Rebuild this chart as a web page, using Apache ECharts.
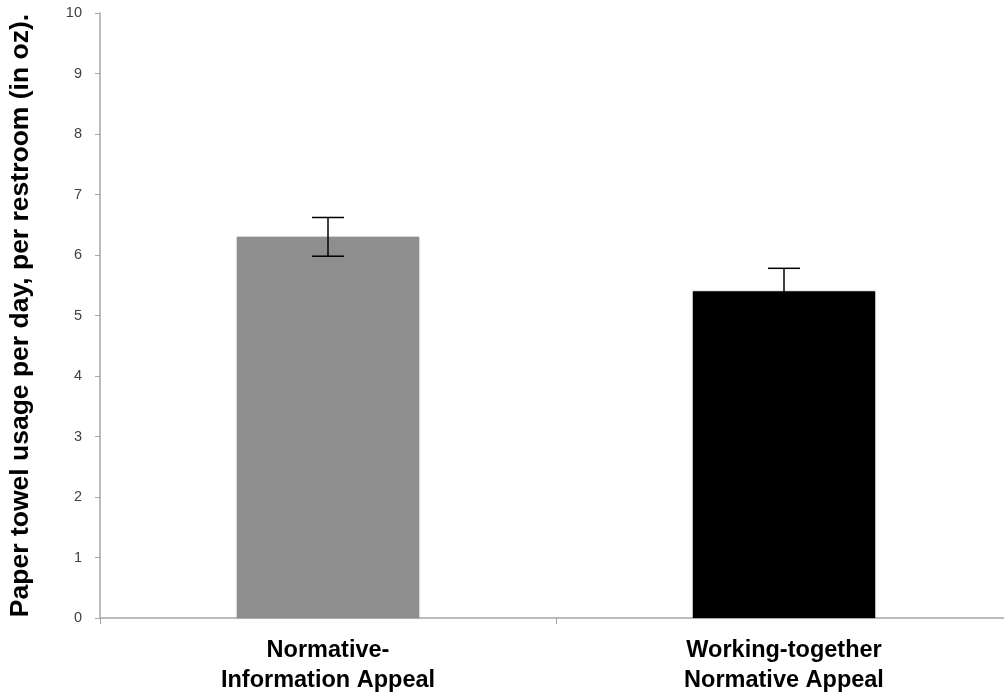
<!DOCTYPE html>
<html><head><meta charset="utf-8">
<script src="https://cdn.jsdelivr.net/npm/echarts@6/dist/echarts.min.js"></script>
<style>html,body{margin:0;padding:0;background:#fff}#c{width:1004px;height:694px}</style>
</head><body><div id="c"></div>
<script>
const categories = ['Normative-\nInformation Appeal', 'Working-together\nNormative Appeal'];
const values = [6.3, 5.4];
const errors = [0.32, 0.38];
const barColors = ['#8e8e8e', '#000000'];
const yTicks = [0,1,2,3,4,5,6,7,8,9,10];

const chart = echarts.init(document.getElementById('c'));
chart.setOption({
  animation: false,
  grid: {left: 100, right: -8, top: 13, bottom: 76, outerBoundsMode: 'none', containLabel: false},
  xAxis: {
    type: 'category', data: categories,
    axisLine: {lineStyle: {color: '#a6a6a6', width: 1.5}},
    axisTick: {show: true, length: 6, lineStyle: {color: '#a6a6a6'}},
    axisLabel: {color: '#000', fontFamily: 'Liberation Sans, Arial', fontWeight: 'bold', fontSize: 23.5, lineHeight: 30, margin: 18}
  },
  yAxis: {
    type: 'value', min: 0, max: 10, interval: 1,
    name: 'Paper towel usage per day, per restroom (in oz).',
    nameLocation: 'middle', nameGap: 66, nameRotate: 90,
    nameTextStyle: {color: '#000', fontFamily: 'Liberation Sans, Arial', fontWeight: 'bold', fontSize: 26.5},
    axisLine: {show: true, lineStyle: {color: '#a6a6a6', width: 1.5}},
    axisTick: {show: true, length: 5, lineStyle: {color: '#a6a6a6'}},
    splitLine: {show: false},
    axisLabel: {color: '#404040', fontFamily: 'Liberation Sans, Arial', fontSize: 14.5, margin: 18,
      formatter: v => yTicks.includes(v) ? String(v) : ''}
  },
  series: [
    {
      type: 'bar', barWidth: '40%',
      data: values.map((v, i) => ({value: v, itemStyle: {color: barColors[i], shadowColor: 'rgba(0,0,0,0.25)', shadowBlur: 2}}))
    },
    {
      type: 'custom', z: 10,
      data: values.map((v, i) => [i, v - errors[i], v + errors[i]]),
      renderItem: function (params, api) {
        const lo = api.coord([api.value(0), api.value(1)]);
        const hi = api.coord([api.value(0), api.value(2)]);
        const hw = 16;
        const st = {stroke: '#000', lineWidth: 1.5};
        return {type: 'group', children: [
          {type: 'line', shape: {x1: hi[0], y1: hi[1], x2: lo[0], y2: lo[1]}, style: st},
          {type: 'line', shape: {x1: hi[0]-hw, y1: hi[1], x2: hi[0]+hw, y2: hi[1]}, style: st},
          {type: 'line', shape: {x1: lo[0]-hw, y1: lo[1], x2: lo[0]+hw, y2: lo[1]}, style: st}
        ]};
      }
    }
  ]
});
</script></body></html>
